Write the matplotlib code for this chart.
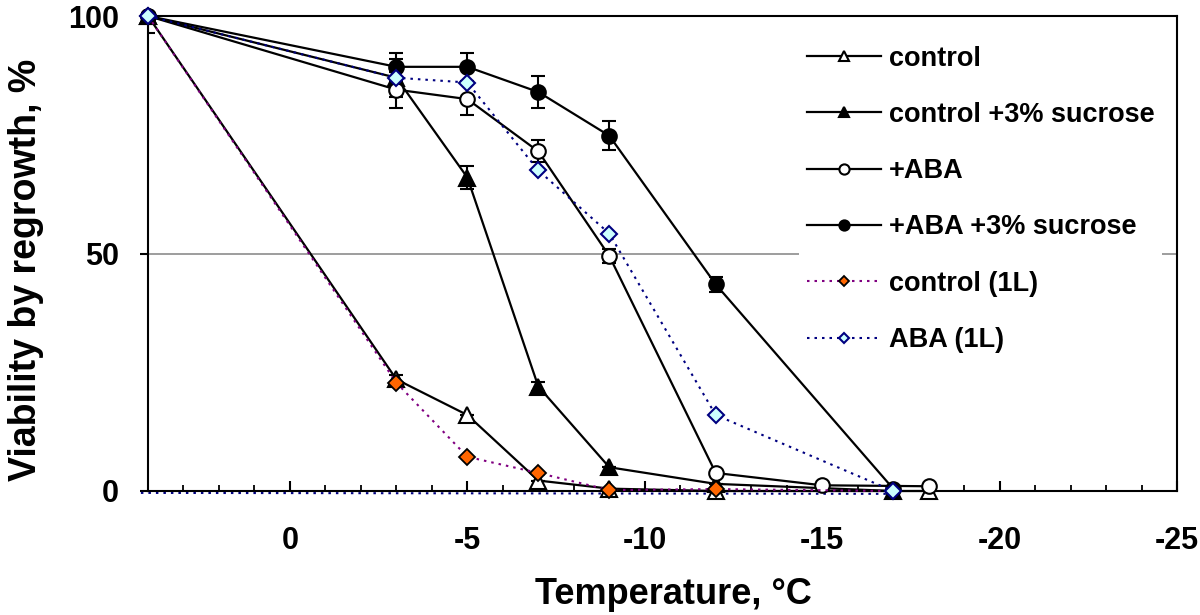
import matplotlib
matplotlib.use('Agg')
import matplotlib.pyplot as plt
from matplotlib.ticker import MultipleLocator, FixedLocator

plt.rcParams['font.family'] = ['Liberation Sans', 'DejaVu Sans']
plt.rcParams['font.weight'] = 'bold'
plt.rcParams['axes.unicode_minus'] = False

# ---- data ----
temp_control = [4, -3, -5, -7, -9, -12, -18]
val_control = [100, 23.5, 16, 2.2, 0.5, 0, 0]
err_control = [0, 1, 0, 0, 0, 0, 0]

temp_control_suc = [4, -3, -5, -7, -9, -12, -17]
val_control_suc = [100, 87, 66, 22, 5, 1.5, 0]
err_control_suc = [0, 4, 2.5, 1, 0, 0, 0]

temp_aba = [4, -3, -5, -7, -9, -12, -15, -18]
val_aba = [100, 84.5, 82.5, 71.5, 49.5, 3.8, 1.2, 1]
err_aba = [3.5, 3.8, 3.3, 2.3, 1.5, 0, 0, 0]

temp_aba_suc = [4, -3, -5, -7, -9, -12, -17]
val_aba_suc = [100, 89.3, 89.3, 84, 74.8, 43.5, 0.5]
err_aba_suc = [0, 3, 3, 3.3, 3, 1.5, 0]

temp_control_1l = [4, -3, -5, -7, -9, -12, -17]
val_control_1l = [100, 22.8, 7.2, 3.8, 0.2, 0.4, 0]

temp_aba_1l = [4, -3, -5, -7, -9, -12, -17]
val_aba_1l = [100, 87, 86, 67.5, 54.2, 16, 0]

temp_floor = [4.2, -17]
val_floor = [-0.4, -0.6]

labels = ['control', 'control +3% sucrose', '+ABA', '+ABA +3% sucrose',
          'control (1L)', 'ABA (1L)']
x_ticks_major = 5
y_ticks = [0, 50, 100]

# ---- figure ----
fig = plt.figure(figsize=(12, 6.15), dpi=100)
ax = fig.add_axes([148/1200, 1 - 491/615, (1177 - 148)/1200, (491 - 16)/615])

ax.set_xlim(4, -25)
ax.set_ylim(0, 100)

ax.grid(axis='y', color='#8c8c8c', lw=1.2, zorder=0)
ax.set_axisbelow(True)

dot = (0, (1.2, 2.4))
ax.plot(temp_floor, val_floor, color='#000080', ls=dot, lw=1.5, clip_on=False, zorder=2)

eb = dict(fmt='none', ecolor='black', elinewidth=1.5, capsize=5, capthick=1.5, zorder=3)
ax.errorbar(temp_control, val_control, yerr=err_control, **eb)
ax.errorbar(temp_control_suc, val_control_suc, yerr=err_control_suc, **eb)
ax.errorbar(temp_aba, val_aba, yerr=err_aba, **eb)
ax.errorbar(temp_aba_suc, val_aba_suc, yerr=err_aba_suc, **eb)

h = []
h += ax.plot(temp_control, val_control, '-', color='black', lw=1.6, marker='^', ms=11,
             mfc='white', mec='black', mew=1.5, clip_on=False, zorder=4)
h += ax.plot(temp_control_suc, val_control_suc, '-', color='black', lw=1.6, marker='^', ms=11,
             mfc='black', mec='black', mew=1.5, clip_on=False, zorder=4)
h += ax.plot(temp_aba, val_aba, '-', color='black', lw=1.6, marker='o', ms=10.5,
             mfc='white', mec='black', mew=1.5, clip_on=False, zorder=4)
h += ax.plot(temp_aba_suc, val_aba_suc, '-', color='black', lw=1.6, marker='o', ms=10.5,
             mfc='black', mec='black', mew=1.5, clip_on=False, zorder=4)
h += ax.plot(temp_control_1l, val_control_1l, color='#800080', ls=dot, lw=1.5, marker='D', ms=8,
             mfc='#FF6600', mec='black', mew=1.3, clip_on=False, zorder=5)
h += ax.plot(temp_aba_1l, val_aba_1l, color='#000080', ls=dot, lw=1.5, marker='D', ms=8,
             mfc='#CCFFFF', mec='#000080', mew=1.5, clip_on=False, zorder=5)

ax.xaxis.set_major_locator(MultipleLocator(x_ticks_major))
ax.xaxis.set_minor_locator(MultipleLocator(1))
ax.yaxis.set_major_locator(FixedLocator(y_ticks))

ax.tick_params(axis='y', direction='out', length=6, width=1.5, pad=15, labelsize=22)
ax.tick_params(axis='x', which='major', direction='in', length=7, width=1.5, pad=25, labelsize=22)
ax.tick_params(axis='x', which='minor', direction='in', length=4.5, width=1.3)
for lab in ax.get_xticklabels() + ax.get_yticklabels():
    lab.set_fontweight('bold')

for s in ax.spines.values():
    s.set_linewidth(1.5)
    s.set_color('black')

ax.set_xlabel('Temperature, °C', fontsize=26, fontweight='bold')
ax.set_ylabel('Viability by regrowth, %', fontsize=27, fontweight='bold')
ax.xaxis.set_label_coords(0.511, -0.18)
ax.yaxis.set_label_coords(-0.101, 0.465)

leg = ax.legend(h, labels, loc='upper left', bbox_to_anchor=(0.633, 0.955),
                borderaxespad=0, frameon=True, facecolor='white', edgecolor='none',
                framealpha=1, fancybox=False, handlelength=2.7, handletextpad=0.3,
                labelspacing=1.12, markerscale=0.7, borderpad=0.3,
                prop=dict(size=19.5, weight='bold'))
leg.set_zorder(10)

fig.savefig('out.png', dpi=100)
